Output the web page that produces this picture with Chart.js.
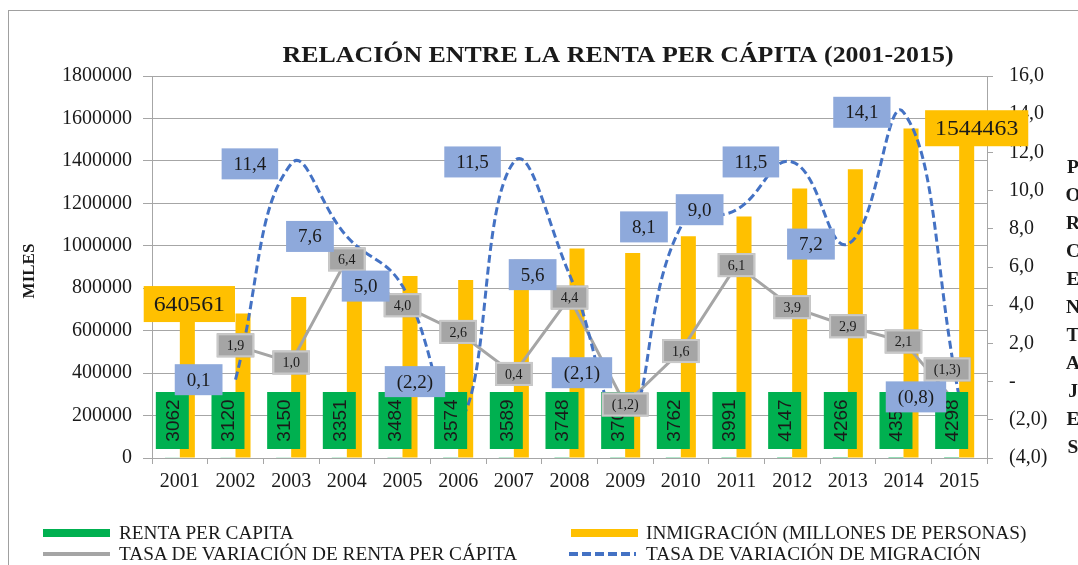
<!DOCTYPE html>
<html>
<head>
<meta charset="utf-8">
<script src="https://cdn.jsdelivr.net/npm/chart.js@4/dist/chart.umd.min.js"></script>
<style>
  html, body { margin: 0; padding: 0; background: #fff; }
  #wrap { position: relative; width: 1078px; height: 565px; overflow: hidden; background: #fff; }
  #frame { position: absolute; left: 8px; top: 10px; width: 1200px; height: 700px; border: 1px solid #a0a0a0; box-sizing: border-box; }
  #c { position: absolute; left: 0; top: 0; }
  .sym { position: absolute; width: 67px; }
  .txt { position: absolute; font-family: "Liberation Serif", serif; font-size: 18px; line-height: 20px; color: #1a1a1a; white-space: nowrap; transform: scaleX(1.07); transform-origin: 0 50%; }
</style>
</head>
<body>
<div id="wrap">
  <div id="frame"></div>
  <canvas id="c" width="1078" height="565"></canvas>
  <div class="sym" style="left:43px;top:529px;height:8px;background:#00B050;"></div>
  <div class="txt" style="left:119px;top:523px;">RENTA PER CAPITA</div>
  <div class="sym" style="left:571px;top:529px;height:8px;background:#FFC000;"></div>
  <div class="txt" style="left:646px;top:523px;">INMIGRACIÓN (MILLONES DE PERSONAS)</div>
  <div class="sym" style="left:43px;top:552px;height:4px;background:#A5A5A5;"></div>
  <div class="txt" style="left:119px;top:544px;">TASA DE VARIACIÓN DE RENTA PER CÁPITA</div>
  <div class="sym" style="left:569px;top:552px;height:4px;background:repeating-linear-gradient(90deg,#4472C4 0 9px,transparent 9px 13px);"></div>
  <div class="txt" style="left:646px;top:544px;">TASA DE VARIACIÓN DE MIGRACIÓN</div>
</div>
<script>
// ---- data ----
const years = ['2001','2002','2003','2004','2005','2006','2007','2008','2009','2010','2011','2012','2013','2014','2015'];
const rentaPerCapita = [3062,3120,3150,3351,3484,3574,3589,3748,3703,3762,3991,4147,4266,4356,4298];
const inmigracion = [640561,681000,758600,816300,857100,838200,934600,986900,966200,1044500,1138500,1269400,1360800,1552700,1544463];
const tasaRenta = [null,1.9,1.0,6.4,4.0,2.6,0.4,4.4,-1.2,1.6,6.1,3.9,2.9,2.1,-1.3];
const tasaMigracion = [null,0.1,11.4,7.6,5.0,-2.2,11.5,5.6,-2.1,8.1,9.0,11.5,7.2,14.1,-0.8];
const leftAxis = { min: 0, max: 1800000, step: 200000 };
const rightAxis = { min: -4, max: 16, step: 2 };
const inmigracionLabelIdx = [0, 14];

// label placement tweaks (manually moved labels in the original), in px
const yellowLabelNudge = { 0: [2, -18], 14: [10, -2] };
const grayLabelNudge = { 14: [-12, -37] };
const blueLabelNudge = { 5: [0, -42], 8: [0, -49] };

const SERIF = '"Liberation Serif", "Times New Roman", serif';
const SANS = '"Liberation Sans", Arial, sans-serif';
const TXT = '#1a1a1a';
const GRID = '#a6a6a6';

function fmtPct(v) {
  if (Math.abs(v) < 1e-9) return '-';
  const s = Math.abs(v).toFixed(1).replace('.', ',');
  return v < 0 ? '(' + s + ')' : s;
}

function box(ctx, cx, cy, w, h, fill, stroke, sw) {
  ctx.fillStyle = fill;
  ctx.fillRect(cx - w / 2, cy - h / 2, w, h);
  if (stroke) {
    ctx.strokeStyle = stroke; ctx.lineWidth = sw;
    ctx.strokeRect(cx - w / 2 + sw / 2, cy - h / 2 + sw / 2, w - sw, h - sw);
  }
}
function textX(ctx, t, x, y, sx) {
  ctx.save(); ctx.translate(x, y); ctx.scale(sx, 1); ctx.fillText(t, 0, 0); ctx.restore();
}

const decor = {
  id: 'decor',
  afterDraw(chart) {
    const ctx = chart.ctx;
    ctx.save();
    ctx.fillStyle = TXT;
    ctx.textAlign = 'center'; ctx.textBaseline = 'middle';
    // title
    ctx.font = 'bold 23px ' + SERIF;
    const title = 'RELACIÓN ENTRE LA RENTA PER CÁPITA (2001-2015)';
    const tw = ctx.measureText(title).width;
    textX(ctx, title, 618, 56, 671 / tw);
    // left axis title
    ctx.save();
    ctx.translate(30, 271);
    ctx.rotate(-Math.PI / 2);
    ctx.font = 'bold 17px ' + SERIF;
    ctx.fillText('MILES', 0, 0);
    ctx.restore();
    // right axis title (stacked letters)
    ctx.font = 'bold 18px ' + SERIF;
    const word = 'PORCENTAJES';
    for (let i = 0; i < word.length; i++) {
      textX(ctx, word[i], 1073, 168 + i * 28, 1.08);
    }
    ctx.restore();
  },
  afterDatasetsDraw(chart) {
    const ctx = chart.ctx;
    const yL = chart.scales.y, yR = chart.scales.y1;
    const mG = chart.getDatasetMeta(0), mY = chart.getDatasetMeta(1);
    const mR = chart.getDatasetMeta(2), mM = chart.getDatasetMeta(3);
    ctx.save();
    ctx.textAlign = 'center'; ctx.textBaseline = 'middle';
    // yellow labels
    ctx.font = '22px ' + SERIF;
    inmigracionLabelIdx.forEach(i => {
      const el = mY.data[i];
      const t = String(inmigracion[i]);
      const w = ctx.measureText(t).width * 1.08 + 20;
      const n = yellowLabelNudge[i] || [0, 0];
      const cx = el.x + n[0], cy = el.y + n[1];
      box(ctx, cx, cy, w, 36, '#FFC000');
      ctx.fillStyle = TXT; textX(ctx, t, cx, cy + 1, 1.08);
    });
    // green labels (rotated)
    ctx.font = '19px ' + SANS;
    const base = yL.getPixelForValue(0);
    rentaPerCapita.forEach((v, i) => {
      const el = mG.data[i];
      const cx = el.x, cy = base - 9 - 28.5;
      box(ctx, cx, cy, 33, 57, '#00B050');
      ctx.save();
      ctx.translate(cx, cy);
      ctx.rotate(-Math.PI / 2);
      ctx.fillStyle = TXT; ctx.fillText(String(v), 0, 1);
      ctx.restore();
    });
    // gray labels (centered on points)
    ctx.font = '14px ' + SERIF;
    tasaRenta.forEach((v, i) => {
      if (v === null) return;
      const el = mR.data[i];
      const t = fmtPct(v);
      const w = ctx.measureText(t).width + 20;
      const n = grayLabelNudge[i] || [0, 0];
      const cx = el.x + n[0], cy = el.y + n[1];
      box(ctx, cx, cy, w, 24, '#A5A5A5', '#C9C9C9', 2);
      ctx.fillStyle = TXT; ctx.fillText(t, cx, cy + 1);
    });
    // blue labels (left of points)
    ctx.font = '19px ' + SERIF;
    tasaMigracion.forEach((v, i) => {
      if (v === null) return;
      const el = mM.data[i];
      const t = fmtPct(v);
      const w = ctx.measureText(t).width + 24;
      const n = blueLabelNudge[i] || [0, 0];
      const cx = el.x - 13 - w / 2 + n[0];
      const cy = el.y + n[1];
      box(ctx, cx, cy, w, 31, '#8EA9DB');
      ctx.fillStyle = TXT; ctx.fillText(t, cx, cy + 1);
    });
    ctx.restore();
  }
};

new Chart(document.getElementById('c'), {
  type: 'bar',
  data: {
    labels: years,
    datasets: [
      { type: 'bar', label: 'RENTA PER CAPITA', data: rentaPerCapita, backgroundColor: '#00B050', yAxisID: 'y', order: 2, categoryPercentage: 0.54, barPercentage: 1 },
      { type: 'bar', label: 'INMIGRACIÓN (MILLONES DE PERSONAS)', data: inmigracion, backgroundColor: '#FFC000', yAxisID: 'y', order: 2, categoryPercentage: 0.54, barPercentage: 1 },
      { type: 'line', label: 'TASA DE VARIACIÓN DE RENTA PER CÁPITA', data: tasaRenta, borderColor: '#A5A5A5', borderWidth: 3, pointRadius: 0, tension: 0, yAxisID: 'y1', order: 1, spanGaps: false },
      { type: 'line', label: 'TASA DE VARIACIÓN DE MIGRACIÓN', data: tasaMigracion, borderColor: '#4472C4', borderWidth: 3, borderDash: [8, 4], pointRadius: 0, tension: 0.45, yAxisID: 'y1', order: 0 }
    ]
  },
  options: {
    responsive: false,
    animation: false,
    devicePixelRatio: 1,
    layout: { padding: { top: 76, left: 0, right: 0, bottom: 0 } },
    plugins: { legend: { display: false }, title: { display: false }, tooltip: { enabled: false } },
    scales: {
      x: {
        position: 'bottom',
        grid: { offset: true, drawOnChartArea: false, tickLength: 6, color: GRID },
        border: { color: GRID },
        ticks: { font: { family: SERIF, size: 20 }, color: TXT, padding: 6, maxRotation: 0, autoSkip: false },
        afterFit(s) { s.height = 107; }
      },
      y: {
        position: 'left',
        min: leftAxis.min, max: leftAxis.max,
        ticks: { stepSize: leftAxis.step, font: { family: SERIF, size: 20 }, color: TXT, padding: 11, callback: v => String(v) },
        grid: { color: GRID, tickLength: 9 },
        border: { color: GRID },
        afterFit(s) { s.width = 152; }
      },
      y1: {
        position: 'right',
        min: rightAxis.min, max: rightAxis.max,
        ticks: { stepSize: rightAxis.step, font: { family: SERIF, size: 20 }, color: TXT, padding: 16, callback: v => fmtPct(v) },
        grid: { drawOnChartArea: false, color: GRID, tickLength: 6 },
        border: { color: GRID },
        afterFit(s) { s.width = 91; }
      }
    }
  },
  plugins: [decor]
});
</script>
</body>
</html>
